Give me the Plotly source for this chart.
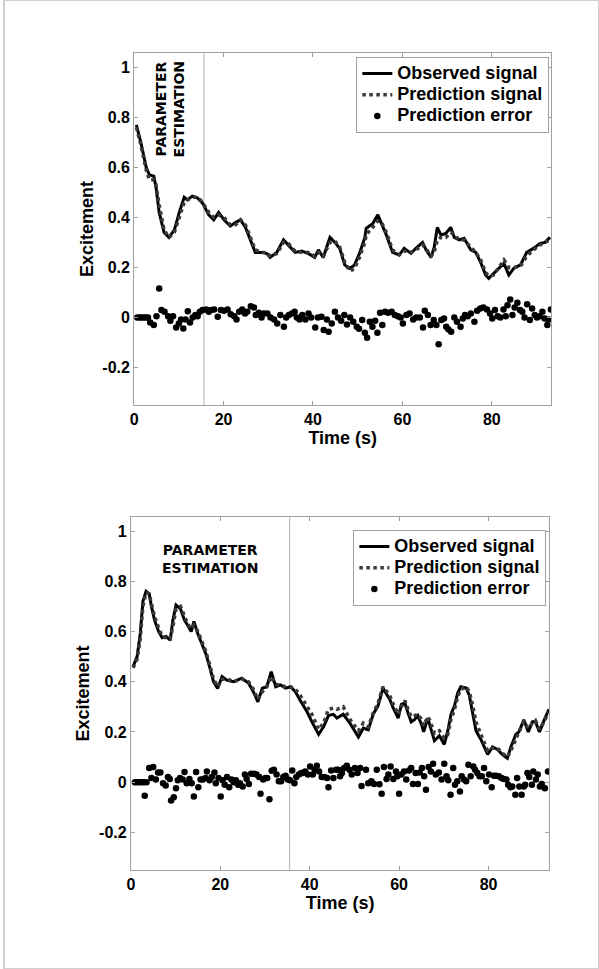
import plotly.graph_objects as go

# ---------------- Top panel data ----------------
top_t = [0.5, 1.5, 2.7, 3.4, 4.4, 4.9, 5.6, 6.7, 7.8, 9.0, 10.1, 11.2, 11.9, 13.0, 14.2, 15.3,
         16.7, 17.8, 18.9, 20.1, 21.5, 22.7, 23.8, 24.9, 26.0, 27.1, 28.6, 29.7, 30.4, 31.9,
         33.4, 34.5, 36.0, 37.5, 39.0, 40.4, 41.2, 42.3, 43.8, 44.9, 46.0, 47.1, 48.2, 49.3,
         50.4, 51.6, 51.9, 53.4, 54.5, 55.3, 56.4, 57.8, 59.3, 60.4, 61.9, 63.0, 64.5, 65.3,
         66.4, 67.1, 67.8, 68.6, 69.7, 70.8, 71.6, 72.7, 73.8, 75.3, 76.4, 77.5, 78.6, 79.3,
         80.4, 81.6, 82.7, 83.8, 84.9, 86.4, 87.8, 89.3, 90.8, 91.9, 93.0]
top_obs = [0.77, 0.70, 0.60, 0.57, 0.565, 0.52, 0.42, 0.34, 0.32, 0.35, 0.42, 0.48, 0.47, 0.485,
           0.477, 0.457, 0.41, 0.39, 0.42, 0.39, 0.365, 0.38, 0.39, 0.36, 0.31, 0.26, 0.26,
           0.255, 0.24, 0.26, 0.31, 0.29, 0.26, 0.265, 0.255, 0.24, 0.27, 0.24, 0.32, 0.30,
           0.275, 0.21, 0.196, 0.21, 0.256, 0.32, 0.356, 0.376, 0.41, 0.376, 0.33, 0.26, 0.25,
           0.276, 0.256, 0.276, 0.30, 0.27, 0.24, 0.28, 0.36, 0.33, 0.336, 0.36, 0.32, 0.31,
           0.316, 0.27, 0.26, 0.22, 0.17, 0.156, 0.176, 0.196, 0.216, 0.17, 0.196, 0.21, 0.26,
           0.276, 0.296, 0.30, 0.32]
top_pred = [0.76, 0.69, 0.59, 0.55, 0.55, 0.53, 0.45, 0.35, 0.32, 0.34, 0.40, 0.46, 0.47, 0.48,
            0.48, 0.46, 0.42, 0.40, 0.41, 0.40, 0.37, 0.37, 0.39, 0.37, 0.32, 0.27, 0.26, 0.26,
            0.245, 0.255, 0.30, 0.295, 0.265, 0.26, 0.26, 0.245, 0.26, 0.245, 0.30, 0.305, 0.28,
            0.22, 0.185, 0.195, 0.24, 0.30, 0.33, 0.36, 0.385, 0.38, 0.34, 0.27, 0.25, 0.265,
            0.26, 0.27, 0.29, 0.275, 0.245, 0.26, 0.31, 0.32, 0.32, 0.34, 0.33, 0.31, 0.31, 0.28,
            0.26, 0.23, 0.18, 0.165, 0.17, 0.20, 0.23, 0.20, 0.20, 0.205, 0.245, 0.27, 0.29,
            0.30, 0.31]
top_err_t = [0.7, 1.2, 1.7, 2.2, 2.7, 3.1, 3.6, 4.4, 5.0, 5.6, 6.1, 6.8, 7.6, 8.1, 8.7, 9.4,
             10.0, 10.5, 11.0, 11.5, 12.0, 12.5, 13.1, 13.7, 14.2, 14.7, 15.3, 16.1, 16.7, 17.2,
             17.9, 18.7, 19.4, 20.1, 20.9, 21.6, 22.4, 22.9, 23.5, 24.2, 24.8, 25.3, 26.1, 26.8,
             27.2, 27.9, 28.5, 29.0, 29.8, 30.5, 31.3, 32.0, 32.7, 33.5, 34.0, 34.6, 35.3, 35.9,
             36.4, 37.0, 37.6, 38.3, 39.0, 39.6, 40.5, 41.1, 41.9, 42.4, 43.1, 43.5, 44.2, 44.9,
             45.6, 46.3, 47.0, 47.6, 48.3, 49.0, 49.8, 50.3, 51.0, 51.6, 52.1, 52.7, 53.3, 53.9,
             54.4, 55.0, 55.5, 56.1, 56.8, 57.6, 58.3, 59.0, 59.6, 60.1, 60.9, 61.6, 62.4, 63.1,
             63.9, 64.6, 65.0, 65.7, 66.3, 67.0, 67.6, 68.1, 68.7, 69.3, 69.8, 70.3, 70.9, 71.6,
             72.2, 73.0, 73.5, 74.0, 74.6, 75.3, 76.1, 76.7, 77.4, 78.1, 78.9, 79.6, 80.1, 80.7,
             81.3, 81.9, 82.6, 83.1, 83.5, 84.1, 84.6, 85.1, 85.7, 86.3, 86.8, 87.3, 87.9, 88.5,
             89.0, 89.6, 90.1, 90.7, 91.3, 91.8, 92.4, 92.7, 93.2]
top_err = [0, 0, 0, 0, 0, 0, -0.02, -0.03, 0.005, 0.116, 0.03, 0.023, 0.005, -0.013, 0.005,
           -0.04, -0.024, -0.008, -0.044, -0.008, 0.025, -0.02, 0.0, 0.01, 0.005, 0.023, 0.03,
           0.032, 0.023, 0.03, 0.032, 0.003, 0.03, 0.027, 0.032, 0.013, 0.005, -0.008, 0.023,
           0.032, 0.016, 0.023, 0.045, 0.04, 0.01, 0.019, 0.0, 0.016, 0.016, 0.0, -0.008, -0.024,
           0.01, -0.037, 0.0, 0.01, 0.016, 0.023, 0.0, -0.008, 0.01, -0.008, 0.016, 0.0, -0.04,
           0.0, 0.003, -0.05, -0.008, -0.057, -0.024, 0.023, 0.0, -0.013, 0.01, -0.028, 0.0,
           -0.017, -0.037, -0.045, -0.01, -0.061, -0.081, -0.017, -0.037, -0.013, -0.061, 0.019,
           -0.03, 0.023, 0.019, 0.023, 0.01, 0.005, 0.0, -0.024, 0.01, 0.016, -0.008, 0.0, 0.0,
           -0.04, 0.027, 0.01, -0.03, -0.01, -0.03, -0.107, -0.01, -0.004, -0.037, -0.048,
           -0.057, 0.0, -0.017, -0.037, -0.004, 0.01, 0.005, 0.016, -0.017, 0.027, 0.036, 0.04,
           0.032, 0.016, -0.004, 0.03, 0.005, 0.0, 0.032, 0.005, 0.049, 0.072, 0.01, 0.04, 0.059,
           0.03, 0.023, 0.0, 0.053, -0.01, 0.036, 0.01, 0.0, 0.005, 0.023, -0.004, -0.03, -0.008,
           0.032]

# ---------------- Bottom panel data ----------------
bot_t = [0.5, 1.4, 2.1, 2.7, 3.4, 4.1, 4.6, 5.3, 6.2, 7.0, 7.9, 8.8, 9.4, 10.1, 11.1, 12.0,
         12.7, 13.5, 14.1, 15.0, 15.9, 16.8, 17.6, 18.5, 19.4, 20.4, 21.6, 23.0, 24.8, 26.3,
         27.4, 28.4, 29.4, 30.4, 31.4, 32.4, 33.5, 34.6, 35.7, 36.8, 37.9, 39.4, 40.5, 42.0,
         43.1, 44.2, 45.3, 46.1, 47.5, 49.0, 50.9, 52.0, 53.1, 54.2, 55.3, 56.4, 57.2, 57.9,
         58.7, 59.8, 60.5, 61.3, 62.0, 62.7, 63.5, 64.2, 65.0, 65.5, 66.4, 66.9, 67.9, 69.0,
         70.1, 70.9, 71.6, 72.4, 73.1, 73.8, 75.0, 75.7, 76.4, 77.2, 78.3, 79.0, 79.8, 80.9,
         82.0, 83.1, 84.2, 85.0, 86.1, 86.8, 87.9, 88.9, 89.8, 90.5, 91.4, 92.4, 93.5]
bot_obs = [0.46, 0.50, 0.59, 0.72, 0.76, 0.75, 0.70, 0.645, 0.60, 0.575, 0.58, 0.566, 0.645,
           0.705, 0.69, 0.645, 0.625, 0.60, 0.64, 0.59, 0.55, 0.51, 0.46, 0.40, 0.373, 0.42,
           0.405, 0.40, 0.414, 0.395, 0.36, 0.32, 0.374, 0.38, 0.44, 0.38, 0.387, 0.374, 0.38,
           0.36, 0.325, 0.28, 0.24, 0.19, 0.22, 0.265, 0.27, 0.255, 0.27, 0.235, 0.18, 0.215,
           0.208, 0.27, 0.305, 0.375, 0.35, 0.33, 0.295, 0.255, 0.31, 0.315, 0.275, 0.24, 0.25,
           0.265, 0.23, 0.20, 0.255, 0.225, 0.165, 0.185, 0.15, 0.205, 0.27, 0.305, 0.355, 0.38,
           0.375, 0.345, 0.275, 0.205, 0.17, 0.14, 0.11, 0.14, 0.13, 0.11, 0.095, 0.14, 0.19,
           0.20, 0.248, 0.20, 0.24, 0.24, 0.20, 0.245, 0.29]
bot_pred = [0.455, 0.49, 0.57, 0.70, 0.755, 0.75, 0.71, 0.66, 0.615, 0.58, 0.575, 0.57, 0.62,
            0.69, 0.70, 0.66, 0.63, 0.61, 0.625, 0.60, 0.56, 0.52, 0.47, 0.41, 0.38, 0.41, 0.41,
            0.40, 0.41, 0.40, 0.37, 0.33, 0.36, 0.38, 0.42, 0.39, 0.385, 0.38, 0.38, 0.37, 0.345,
            0.305, 0.27, 0.21, 0.235, 0.29, 0.295, 0.29, 0.30, 0.25, 0.205, 0.235, 0.22, 0.275,
            0.315, 0.38, 0.36, 0.345, 0.31, 0.27, 0.30, 0.325, 0.29, 0.26, 0.265, 0.27, 0.25,
            0.225, 0.26, 0.245, 0.195, 0.205, 0.175, 0.19, 0.25, 0.29, 0.34, 0.37, 0.38, 0.36,
            0.31, 0.24, 0.19, 0.16, 0.125, 0.135, 0.135, 0.115, 0.10, 0.125, 0.175, 0.20, 0.24,
            0.215, 0.235, 0.245, 0.21, 0.24, 0.28]
bot_err_t = [0.9, 1.4, 1.9, 2.4, 2.9, 3.1, 3.5, 4.1, 4.6, 5.0, 5.6, 6.1, 6.6, 7.2, 7.8, 8.3,
             8.7, 9.0, 9.6, 10.1, 10.5, 11.0, 11.6, 12.0, 12.5, 13.1, 13.6, 14.1, 14.6, 15.1,
             15.6, 16.1, 16.7, 17.0, 17.6, 18.1, 18.7, 19.0, 19.6, 20.1, 20.5, 21.0, 21.5, 22.0,
             22.5, 23.0, 23.5, 24.0, 24.4, 25.0, 25.5, 25.9, 26.4, 26.9, 27.6, 28.1, 28.7, 29.0,
             29.6, 30.1, 30.5, 31.0, 31.5, 32.0, 32.6, 33.1, 33.6, 34.1, 34.6, 35.1, 35.6, 36.1,
             36.6, 37.0, 37.6, 38.1, 38.5, 39.0, 39.6, 40.1, 40.7, 41.1, 41.6, 42.1, 42.7, 43.3,
             43.9, 44.2, 44.8, 45.3, 45.9, 46.4, 46.8, 47.2, 47.7, 48.3, 48.9, 49.4, 50.1, 50.7,
             51.3, 51.6, 52.6, 53.1, 53.8, 54.4, 55.0, 55.6, 56.1, 56.6, 57.2, 57.6, 58.1, 58.7,
             59.3, 59.6, 60.0, 60.5, 61.1, 61.6, 62.2, 62.7, 63.1, 63.7, 64.2, 64.6, 65.1, 65.6,
             66.0, 66.6, 67.1, 67.6, 68.2, 68.9, 69.5, 70.1, 70.6, 71.0, 71.5, 72.1, 72.5, 73.0,
             73.6, 74.0, 74.5, 75.0, 75.5, 76.0, 76.6, 77.0, 77.5, 78.0, 78.5, 79.0, 79.5, 80.1,
             80.7, 81.2, 81.7, 82.3, 82.9, 83.4, 84.0, 84.4, 84.9, 85.3, 86.0, 86.4, 86.9, 87.4,
             87.9, 88.2, 88.7, 89.1, 89.7, 90.0, 90.6, 91.0, 91.5, 91.9, 92.6, 93.3]
bot_err = [0, 0, 0, 0, 0, -0.054, 0.0, 0.056, 0.016, 0.06, 0.01, 0.038, 0.038, -0.004, -0.013,
           0.02, 0.012, -0.073, -0.06, -0.024, 0.007, 0.016, 0.01, 0.04, -0.004, 0.012, -0.004,
           -0.057, 0.04, -0.02, 0.01, 0.01, 0.016, 0.042, 0.007, 0.02, 0.038, -0.004, 0.016,
           -0.057, 0.007, -0.01, 0.02, -0.02, 0.01, 0.0, 0.007, -0.01, -0.004, -0.017, 0.03,
           0.012, -0.007, 0.033, 0.033, 0.03, 0.02, -0.046, 0.01, 0.016, 0.016, -0.068, 0.045,
           0.049, 0.03, 0.003, 0.003, 0.02, 0.025, 0.01, 0.007, 0.046, -0.004, 0.02, 0.03, 0.036,
           0.036, 0.042, 0.03, 0.062, 0.03, 0.049, 0.065, 0.042, 0.02, 0.02, 0.016, -0.02, 0.046,
           0.016, 0.049, 0.049, 0.023, 0.036, 0.056, 0.065, 0.049, 0.03, 0.056, 0.036, 0.056,
           -0.015, 0.049, -0.004, 0.003, -0.007, 0.049, -0.008, -0.046, 0.06, 0.012, 0.03, 0.062,
           0.012, 0.042, 0.023, -0.046, 0.03, 0.042, 0.01, 0.046, 0.056, -0.007, 0.036, -0.007,
           0.038, 0.056, 0.023, -0.03, 0.06, 0.042, 0.073, 0.03, 0.038, 0.01, 0.073, 0.023,
           0.007, -0.05, 0.056, -0.01, 0.003, -0.037, 0.023, 0.01, 0.003, 0.069, 0.023, 0.062,
           0.049, 0.036, 0.023, 0.023, 0.056, 0.003, 0.03, -0.02, 0.025, 0.025, 0.023, 0.016,
           0.012, 0.01, -0.01, -0.02, -0.017, -0.05, 0.016, -0.017, -0.05, -0.017, -0.01, 0.036,
           0.02, -0.01, 0.042, 0.01, 0.03, -0.017, -0.007, -0.024, 0.042]

top_split = 15.6
bot_split = 35.5

x_ticks = [0, 20, 40, 60, 80]
y_ticks = [-0.2, 0, 0.2, 0.4, 0.6, 0.8, 1]
y_tick_text = ["-0.2", "0", "0.2", "0.4", "0.6", "0.8", "1"]

names = ["Observed signal", "Prediction signal", "Prediction error"]

FONT = "Liberation Sans, Arial, sans-serif"
W, H = 599, 969

fig = go.Figure()


def legend_label(s):
    return '<span style="font-size:18px">' + s + '</span>'


def add_panel(t, obs, pred, et, err, xa, ya, legend):
    fig.add_trace(go.Scatter(x=t, y=obs, mode="lines", name=legend_label(names[0]),
                             xaxis=xa, yaxis=ya, legend=legend,
                             line=dict(color="black", width=3)))
    fig.add_trace(go.Scatter(x=t, y=pred, mode="lines", name=legend_label(names[1]),
                             xaxis=xa, yaxis=ya, legend=legend,
                             line=dict(color="#3a3a3a", width=3.5, dash="dot")))
    fig.add_trace(go.Scatter(x=et, y=err, mode="markers", name=legend_label(names[2]),
                             xaxis=xa, yaxis=ya, legend=legend,
                             marker=dict(color="black", size=6.5)))


add_panel(top_t, top_obs, top_pred, top_err_t, top_err, "x", "y", "legend")
add_panel(bot_t, bot_obs, bot_pred, bot_err_t, bot_err, "x2", "y2", "legend2")

axis_common = dict(showline=True, mirror="ticks", linecolor="#a0a0a0", linewidth=1,
                   ticks="inside", ticklen=4, tickcolor="#a0a0a0", showgrid=False,
                   zeroline=False,
                   tickfont=dict(family=FONT, size=16, color="black", weight="bold"))
title_font = dict(family=FONT, size=18, color="black", weight="bold")
legend_common = dict(xanchor="right", yanchor="top", bgcolor="white", bordercolor="#a0a0a0",
                     borderwidth=1, tracegroupgap=0, itemwidth=30,
                     font=dict(family=FONT, size=14, color="black", weight="bold"))

fig.update_layout(
    width=W, height=H, margin=dict(l=0, r=0, t=0, b=0),
    paper_bgcolor="white", plot_bgcolor="white", showlegend=True,
    xaxis=dict(domain=[131 / W, 551 / W], range=[0, 93.3], tickvals=x_ticks, anchor="y",
               title=dict(text="Time (s)", standoff=0, font=title_font), **axis_common),
    yaxis=dict(domain=[(H - 405) / H, (H - 53) / H], range=[-0.35, 1.057], tickvals=y_ticks,
               ticktext=y_tick_text, anchor="x",
               title=dict(text="Excitement", standoff=4, font=title_font), **axis_common),
    xaxis2=dict(domain=[127.7 / W, 549 / W], range=[0, 93.6], tickvals=x_ticks, anchor="y2",
                title=dict(text="Time (s)", standoff=0, font=title_font), **axis_common),
    yaxis2=dict(domain=[(H - 870) / H, (H - 517) / H], range=[-0.35, 1.056],
                tickvals=y_ticks, ticktext=y_tick_text, anchor="x2",
                title=dict(text="Excitement", standoff=4, font=title_font), **axis_common),
    legend=dict(x=549 / W, y=(H - 57) / H, **legend_common),
    legend2=dict(x=546 / W, y=(H - 530) / H, **legend_common),
)

# split lines (end of parameter-estimation window)
fig.add_shape(type="line", xref="x", yref="y domain", x0=top_split, x1=top_split, y0=0, y1=1,
              line=dict(color="#bdbdbd", width=1.2), layer="below")
fig.add_shape(type="line", xref="x2", yref="y2 domain", x0=bot_split, x1=bot_split, y0=0,
              y1=1, line=dict(color="#bdbdbd", width=1.2), layer="below")

# page border
fig.add_shape(type="rect", xref="paper", yref="paper", x0=0, x1=1, y0=0, y1=1,
              line=dict(color="#d0d0d0", width=2))

ann_font = dict(family="DejaVu Sans, sans-serif", size=14, color="black", weight="bold")
fig.add_annotation(x=8.1, y=0.833, xref="x", yref="y", text="PARAMETER<br>ESTIMATION",
                   showarrow=False, textangle=-90, font=ann_font, align="center")
fig.add_annotation(x=17.8, y=0.888, xref="x2", yref="y2", text="PARAMETER<br>ESTIMATION",
                   showarrow=False, font=ann_font, align="center")

fig.write_html("out.html", config={"displayModeBar": False},
               post_script="document.body.style.margin='0px';")
